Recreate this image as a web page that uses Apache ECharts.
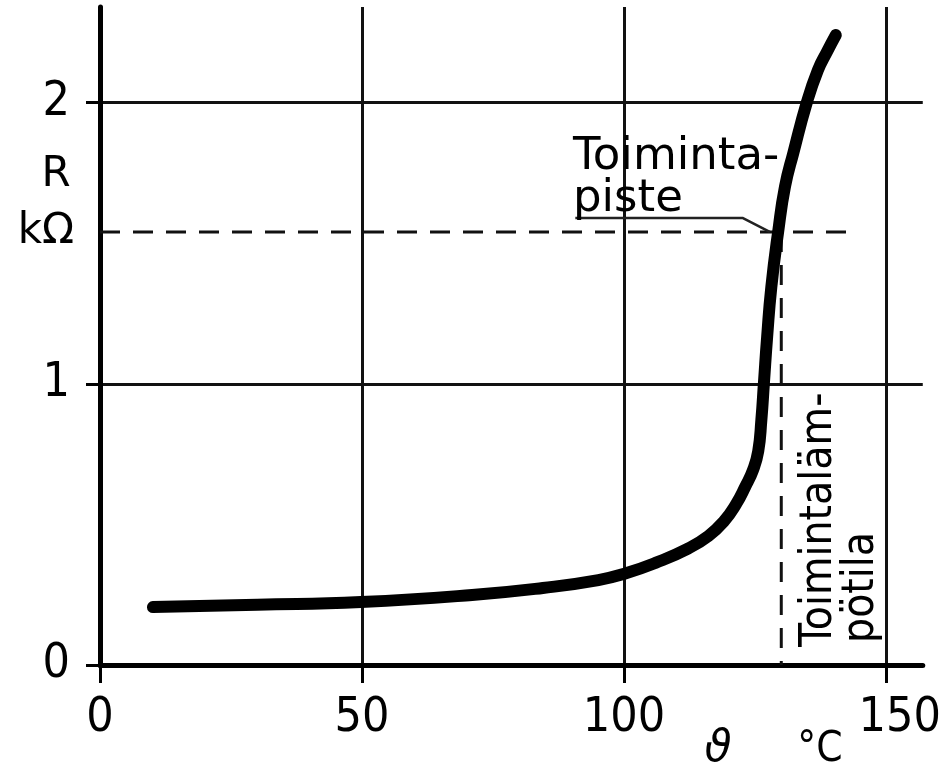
<!DOCTYPE html>
<html><head><meta charset="utf-8">
<script src="https://cdn.jsdelivr.net/npm/echarts@6/dist/echarts.min.js"></script>
<style>html,body{margin:0;padding:0;background:#fff}#c{width:944px;height:769px}</style>
</head><body><div id="c"></div>
<script>
// Temperature ϑ (°C) and resistance R (kΩ)
const temperature = [10.1, 30, 49.8, 71, 84.5, 95.1, 100.5, 106.0, 112.1, 116.1, 119.1, 121.4, 123.1, 124.6, 125.6, 126.2, 126.7, 127.3, 128.1, 129.4, 130.7, 132.3, 134.9, 137.0, 138.7, 140.4];
const resistance  = [0.206, 0.214, 0.224, 0.249, 0.274, 0.302, 0.327, 0.363, 0.413, 0.459, 0.512, 0.573, 0.633, 0.693, 0.76, 0.871, 1.006, 1.166, 1.344, 1.54, 1.70, 1.821, 2.002, 2.116, 2.18, 2.24];
// Operating point (Toimintapiste): temperature and resistance
const opTemp = 130;
const opRes = 1.54;
const dashedEndTemp = 143.5;
// Leader line from the "piste" label to the curve
const leaderTemp = [90.7, 122.6, 127.8];
const leaderRes  = [1.59, 1.59, 1.54];
// Tick labels
const xTickValues = [0, 50, 100, 150];
const yTickValues = [0, 1, 2];

const curveData = temperature.map((t, i) => [t, resistance[i]]);
const leaderData = leaderTemp.map((t, i) => [t, leaderRes[i]]);

const chart = echarts.init(document.getElementById('c'), null, {renderer: 'canvas'});
const tickFont = 'DejaVu Sans Condensed';
const txtFont = 'DejaVu Sans';

chart.setOption({
  animation: false,
  backgroundColor: '#fff',
  grid: {left: 100, right: 19, top: 7, bottom: 104, containLabel: false},
  xAxis: {
    type: 'value', min: 0, max: 157, interval: 50,
    axisLine: {show: true, onZero: true, lineStyle: {color: '#000', width: 5}},
    axisTick: {show: true, customValues: xTickValues, length: 18, lineStyle: {color: '#000', width: 3}},
    axisLabel: {customValues: xTickValues, margin: 30, color: '#000', fontFamily: tickFont, fontSize: 48,
      formatter: v => v === 150 ? '  150' : String(v)},
    splitLine: {show: true, lineStyle: {color: '#111', width: 3}}
  },
  yAxis: {
    type: 'value', min: 0, max: 2.34, interval: 1,
    axisLine: {show: true, onZero: true, lineStyle: {color: '#000', width: 5}},
    axisTick: {show: true, customValues: yTickValues, length: 14, lineStyle: {color: '#000', width: 3}},
    axisLabel: {customValues: yTickValues, margin: 30, color: '#000', fontFamily: tickFont, fontSize: 48},
    splitLine: {show: true, lineStyle: {color: '#111', width: 3}}
  },
  series: [
    {
      type: 'line', data: [[0, opRes], [dashedEndTemp, opRes]], symbol: 'none', silent: true, z: 3,
      lineStyle: {color: '#111', width: 3, type: [20, 13]}
    },
    {
      type: 'line', data: [[opTemp, opRes], [opTemp, 0]], symbol: 'none', silent: true, z: 3,
      lineStyle: {color: '#111', width: 3, type: [20, 13]}
    },
    {
      type: 'line', data: leaderData, symbol: 'none', silent: true, z: 3,
      lineStyle: {color: '#222', width: 2.5}
    },
    {
      type: 'line', data: curveData, symbol: 'none', smooth: 0.5, z: 5,
      lineStyle: {color: '#000', width: 12, cap: 'round', join: 'round'}
    }
  ],
  graphic: [
    {type: 'text', x: 573, y: 157, z: 10, style: {text: 'Toiminta-', font: '45px ' + txtFont, fill: '#000', align: 'left', verticalAlign: 'middle'}},
    {type: 'text', x: 573, y: 199, z: 10, style: {text: 'piste', font: '45px ' + txtFont, fill: '#000', align: 'left', verticalAlign: 'middle'}},
    {type: 'text', x: 820, y: 647, rotation: Math.PI / 2, z: 10, style: {text: 'Toimintaläm-', font: '44px ' + tickFont, fill: '#000', align: 'left', verticalAlign: 'middle'}},
    {type: 'text', x: 862, y: 643, rotation: Math.PI / 2, z: 10, style: {text: 'pötila', font: '44px ' + tickFont, fill: '#000', align: 'left', verticalAlign: 'middle'}},
    {type: 'text', x: 56, y: 175, z: 10, style: {text: 'R', font: '42px ' + txtFont, fill: '#000', align: 'center', verticalAlign: 'middle'}},
    {type: 'text', x: 46, y: 232, z: 10, style: {text: 'kΩ', font: '42px ' + txtFont, fill: '#000', align: 'center', verticalAlign: 'middle'}},
    {type: 'text', x: 718, y: 750, z: 10, style: {text: 'ϑ', font: 'italic 44px ' + txtFont, fill: '#000', align: 'center', verticalAlign: 'middle'}},
    {type: 'text', x: 820, y: 750, z: 10, style: {text: '°C', font: '42px ' + tickFont, fill: '#000', align: 'center', verticalAlign: 'middle'}}
  ]
});
</script>
</body></html>
